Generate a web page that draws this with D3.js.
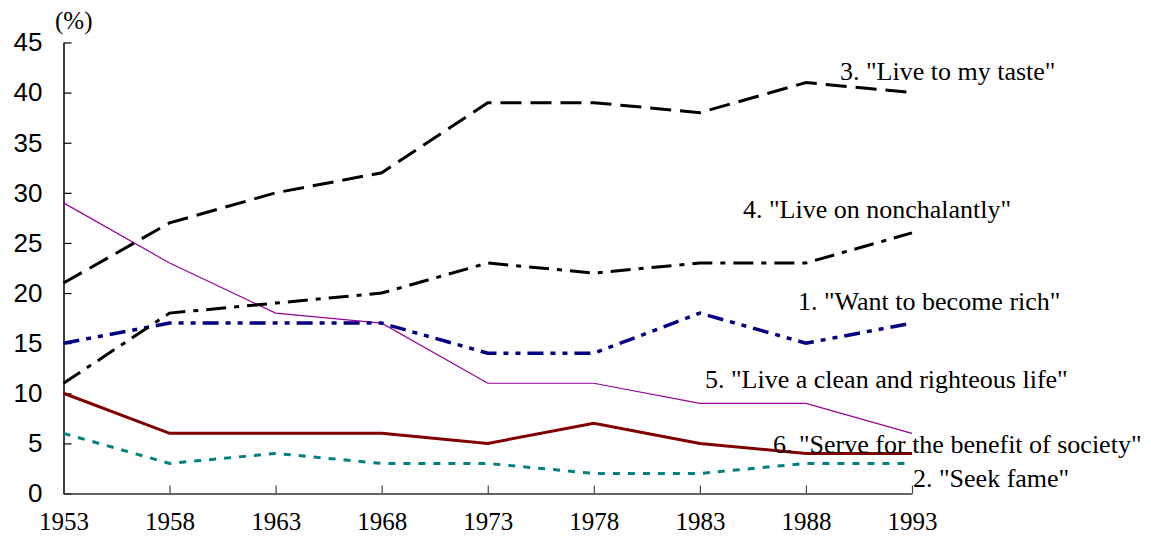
<!DOCTYPE html>
<html>
<head>
<meta charset="utf-8">
<script src="https://d3js.org/d3.v7.min.js"></script>
</head>
<body style="margin:0; background:#fff">
<svg width="1151" height="541"></svg>
<script>
var years = [1953, 1958, 1963, 1968, 1973, 1978, 1983, 1988, 1993];
var yTicks = [0, 5, 10, 15, 20, 25, 30, 35, 40, 45];

var rich      = [15, 17, 17, 17, 14, 14, 18, 15, 17];
var fame      = [6, 3, 4, 3, 3, 2, 2, 3, 3];
var taste     = [21, 27, 30, 32, 39, 39, 38, 41, 40];
var nonchalant= [11, 18, 19, 20, 23, 22, 23, 23, 26];
var righteous = [29, 23, 18, 17, 11, 11, 9, 9, 6];
var society   = [10, 6, 6, 6, 5, 7, 5, 4, 4];

var SERIF = "'Liberation Serif'";
var SANS = "'Liberation Sans'";

var series = [
  { name: '5. "Live a clean and righteous life"', values: righteous, color: '#990099', width: 1.2, dash: null, lx: 705, ly: 388 },
  { name: '2. "Seek fame"', values: fame, color: '#008080', width: 3, dash: '7,8', lx: 913, ly: 487 },
  { name: '6. "Serve for the benefit of society"', values: society, color: '#800000', width: 3, dash: null, lx: 773, ly: 453 },
  { name: '1. "Want to become rich"', values: rich, color: '#000080', width: 3.5, dash: '16,7,5,7,5,7', lx: 798, ly: 310 },
  { name: '4. "Live on nonchalantly"', values: nonchalant, color: '#000', width: 3, dash: '20,8,5,8', lx: 743, ly: 218 },
  { name: '3. "Live to my taste"', values: taste, color: '#000', width: 3, dash: '21,9', lx: 840, ly: 80 }
];

var svg = d3.select('svg');

var x = d3.scaleLinear().domain([1953, 1993]).range([63.5, 912]);
var y = d3.scaleLinear().domain([0, 45]).range([493.5, 42.5]);

// y axis, ticks point inward
var yAxis = svg.append('g')
  .attr('transform', 'translate(63.5,0)')
  .call(d3.axisLeft(y).tickValues(yTicks).tickSizeInner(-8).tickSizeOuter(0).tickPadding(21));
yAxis.attr('font-family', null).attr('font-size', null);
yAxis.select('.domain').attr('stroke', '#000').attr('stroke-width', 1.5);
yAxis.selectAll('.tick line').attr('stroke', '#000').attr('stroke-width', 1.2);
yAxis.selectAll('.tick text')
  .attr('font-family', 'Liberation Sans')
  .style('font-family', SANS).style('font-size', '26px').style('fill', '#000');

// x axis
var xAxis = svg.append('g')
  .attr('transform', 'translate(0,493.5)')
  .call(d3.axisBottom(x).tickValues(years).tickFormat(d3.format('d')).tickSizeInner(-8).tickSizeOuter(0).tickPadding(19));
xAxis.attr('font-family', null).attr('font-size', null);
xAxis.select('.domain').attr('stroke', '#333').attr('stroke-width', 1.5);
xAxis.selectAll('.tick line').attr('stroke', '#444').attr('stroke-width', 1.2);
xAxis.selectAll('.tick text')
  .attr('font-family', 'Liberation Serif')
  .style('font-family', SERIF).style('font-size', '25px').style('fill', '#000');

svg.append('text')
  .attr('x', 55).attr('y', 29)
  .attr('font-family', 'Liberation Serif')
  .style('font-family', SERIF).style('font-size', '25px')
  .text('(%)');

var line = d3.line()
  .x(function (d, i) { return x(years[i]); })
  .y(function (d) { return y(d); });

svg.selectAll('path.series')
  .data(series).enter()
  .append('path')
  .attr('class', 'series')
  .attr('d', function (d) { return line(d.values); })
  .attr('fill', 'none')
  .attr('stroke', function (d) { return d.color; })
  .attr('stroke-width', function (d) { return d.width; })
  .attr('stroke-dasharray', function (d) { return d.dash; });

svg.selectAll('text.lbl')
  .data(series).enter()
  .append('text')
  .attr('class', 'lbl')
  .attr('x', function (d) { return d.lx; })
  .attr('y', function (d) { return d.ly; })
  .attr('font-family', 'Liberation Serif')
  .style('font-family', SERIF).style('font-size', '26px').style('fill', '#000')
  .text(function (d) { return d.name; });
</script>
</body>
</html>
